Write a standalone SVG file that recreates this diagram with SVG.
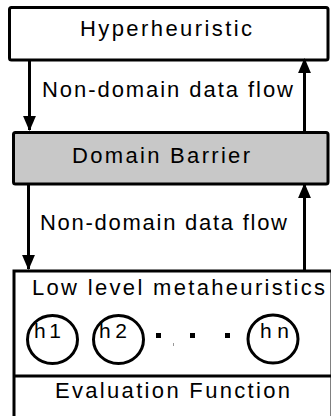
<svg xmlns="http://www.w3.org/2000/svg" width="331" height="416" viewBox="0 0 331 416">
<style>
text{font-family:"Liberation Sans",Arial,sans-serif;font-size:22px;fill:#000}
.sm{font-size:21px}
.box{stroke:#000;stroke-width:3;fill:#fff}
.ln{stroke:#000;stroke-width:3;fill:none}
.c{stroke:#000;stroke-width:3;fill:#fff}
</style>
<defs>
<marker id="ah" viewBox="0 0 14 12" refX="13" refY="6" markerWidth="15" markerHeight="13" markerUnits="userSpaceOnUse" orient="auto">
<path d="M0,0 L14,6 L0,12 Z" fill="#000"/>
</marker>
</defs>
<g id="hyper">
<rect class="box" x="9.5" y="7.5" width="318.5" height="52.5" rx="2"/>
<text x="80" y="35.5" textLength="172" lengthAdjust="spacing">Hyperheuristic</text>
</g>
<g id="barrier">
<rect class="box" x="13.5" y="132.5" width="314.5" height="51.5" rx="2" style="fill:#c8c8c8"/>
<text x="72" y="163" textLength="178" lengthAdjust="spacing">Domain Barrier</text>
</g>
<g id="lowlevel">
<rect class="box" x="14" y="271" width="318" height="160"/>
<line class="ln" x1="14" y1="376" x2="334" y2="376"/>
<text x="32" y="295" textLength="293" lengthAdjust="spacing">Low level metaheuristics</text>
<text x="55" y="398" textLength="235" lengthAdjust="spacing">Evaluation Function</text>
</g>
<g id="h1"><ellipse class="c" cx="52.5" cy="339.5" rx="25" ry="24"/><text class="sm" x="34" y="338" textLength="27" lengthAdjust="spacing">h1</text></g>
<g id="h2"><ellipse class="c" cx="118.5" cy="339.5" rx="25" ry="24"/><text class="sm" x="99" y="338" textLength="28" lengthAdjust="spacing">h2</text></g>
<g id="hn"><ellipse class="c" cx="273" cy="339" rx="25" ry="24"/><text class="sm" x="260" y="338" textLength="29" lengthAdjust="spacing">hn</text></g>
<g id="dots">
<rect x="156" y="333" width="5" height="5"/>
<rect x="190" y="333" width="5" height="5"/>
<rect x="225" y="333" width="5" height="5"/>
<rect x="173" y="343" width="1" height="3" fill="#999"/>
</g>
<g id="connectors">
<line class="ln" x1="29.5" y1="60" x2="29.5" y2="130" marker-end="url(#ah)"/>
<line class="ln" x1="304.5" y1="132" x2="304.5" y2="59" marker-end="url(#ah)"/>
<line class="ln" x1="28.5" y1="184" x2="28.5" y2="269" marker-end="url(#ah)"/>
<line class="ln" x1="304.5" y1="271" x2="304.5" y2="184" marker-end="url(#ah)"/>
<text x="42" y="97" textLength="251" lengthAdjust="spacing">Non-domain data flow</text>
<text x="40" y="230" textLength="247" lengthAdjust="spacing">Non-domain data flow</text>
</g>
</svg>
